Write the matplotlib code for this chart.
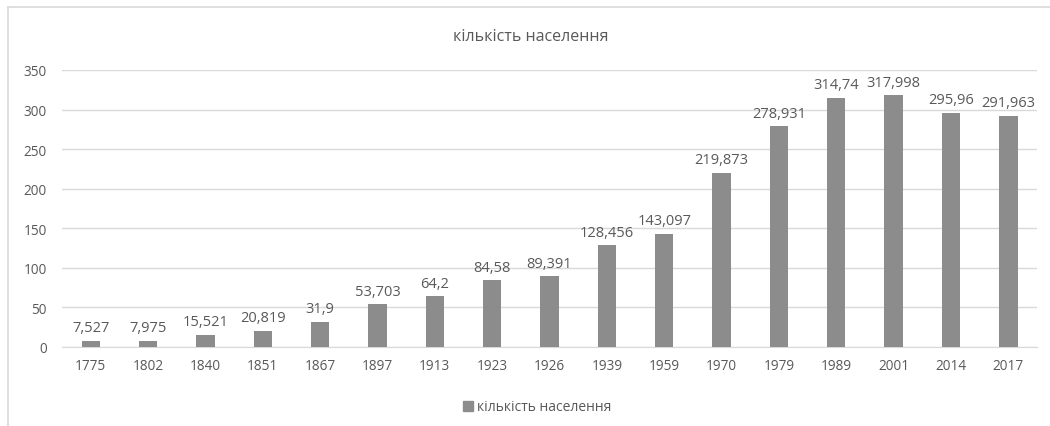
import matplotlib
matplotlib.use("Agg")
import matplotlib.pyplot as plt
from matplotlib.lines import Line2D

years = ["1775", "1802", "1840", "1851", "1867", "1897", "1913", "1923", "1926",
         "1939", "1959", "1970", "1979", "1989", "2001", "2014", "2017"]
population = [7.527, 7.975, 15.521, 20.819, 31.9, 53.703, 64.2, 84.58, 89.391,
              128.456, 143.097, 219.873, 278.931, 314.74, 317.998, 295.96, 291.963]
value_labels = ["7,527", "7,975", "15,521", "20,819", "31,9", "53,703", "64,2", "84,58",
                "89,391", "128,456", "143,097", "219,873", "278,931", "314,74",
                "317,998", "295,96", "291,963"]
series_name = "кількість населення"

plt.rcParams['font.family'] = ['Open Sans', 'DejaVu Sans']
txt = "#595959"
bar_c = "#8c8c8c"

fig = plt.figure(figsize=(10.5, 4.27), dpi=100)
ax = fig.add_axes([62/1050, 1-348/427, 975/1050, 277/427])

x = list(range(len(years)))
ax.bar(x, population, width=0.32, color=bar_c, zorder=3)
for xi, v, lab in zip(x, population, value_labels):
    ax.annotate(lab, (xi, v), xytext=(0, 4), textcoords="offset points",
                ha="center", va="bottom", fontsize=10.5, color=txt)

ax.set_xlim(-0.5, len(years) - 0.5)
ax.set_ylim(0, 350)
ax.set_yticks(range(0, 351, 50))
ax.set_xticks(x)
ax.set_xticklabels(years)
ax.tick_params(axis="both", length=0, labelsize=9.8, colors=txt)
ax.tick_params(axis="x", pad=8)
ax.tick_params(axis="y", pad=11)
ax.grid(axis="y", color="#d9d9d9", linewidth=1, zorder=0)
for s in ["top", "right", "left"]:
    ax.spines[s].set_visible(False)
ax.spines["bottom"].set_color("#d9d9d9")

fig.text(531/1050, 1-37/427, series_name, ha="center", va="center", fontsize=11.5, color=txt)

leg = fig.legend([plt.Rectangle((0, 0), 1, 1, color=bar_c)], [series_name],
                 loc="center", bbox_to_anchor=(537/1050, 1-408/427), frameon=False,
                 fontsize=10, handlelength=0.7, handleheight=0.7, handletextpad=0.3)
for t in leg.get_texts():
    t.set_color(txt)

# outer frame (left and top edges visible)
fig.add_artist(Line2D([8/1050, 8/1050], [0, 1-8/427], transform=fig.transFigure,
                      color="#d9d9d9", linewidth=1.2))
fig.add_artist(Line2D([8/1050, 1], [1-8/427, 1-8/427], transform=fig.transFigure,
                      color="#d9d9d9", linewidth=1.2))

fig.savefig("out.png", dpi=100)
